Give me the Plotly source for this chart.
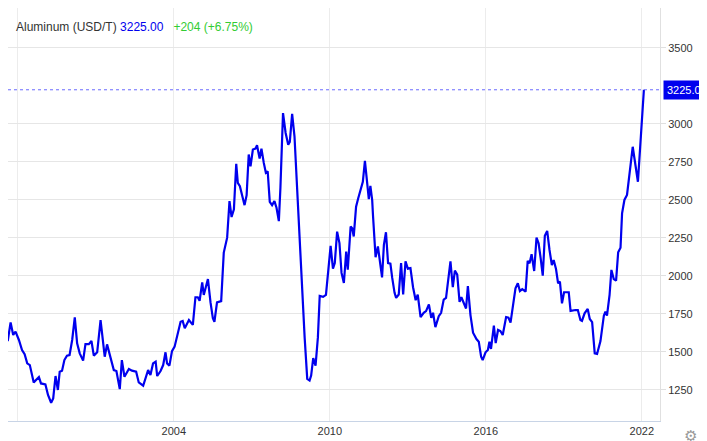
import plotly.graph_objects as go
import pandas as pd

years = [
    1997.46,1997.61,1997.72,1997.82,1997.91,1998.04,1998.16,1998.26,1998.36,1998.46,
    1998.61,1998.74,1998.81,1998.89,1999.06,1999.16,1999.28,1999.36,1999.45,1999.54,
    1999.61,1999.70,1999.79,1999.89,1999.99,2000.09,2000.19,2000.28,2000.38,2000.51,
    2000.60,2000.73,2000.83,2000.92,2001.05,2001.18,2001.34,2001.43,2001.56,2001.69,
    2001.79,2001.92,2002.00,2002.10,2002.27,2002.39,2002.55,2002.65,2002.82,2002.95,
    2003.01,2003.10,2003.20,2003.30,2003.36,2003.49,2003.59,2003.68,2003.74,2003.83,
    2003.93,2004.03,2004.13,2004.26,2004.34,2004.42,2004.58,2004.73,2004.83,2004.92,
    2004.99,2005.09,2005.15,2005.31,2005.41,2005.50,2005.56,2005.66,2005.82,2005.92,
    2006.05,2006.14,2006.22,2006.31,2006.40,2006.46,2006.54,2006.63,2006.72,2006.80,
    2006.88,2006.95,2007.04,2007.14,2007.20,2007.30,2007.37,2007.46,2007.54,2007.61,
    2007.69,2007.78,2007.87,2007.95,2008.04,2008.10,2008.20,2008.30,2008.40,2008.46,
    2008.55,2008.64,2008.74,2008.85,2008.93,2009.03,2009.13,2009.22,2009.28,2009.36,
    2009.45,2009.54,2009.61,2009.74,2009.85,2009.93,
    2010.03,2010.12,2010.19,2010.28,2010.37,2010.45,2010.54,2010.63,2010.69,2010.80,
    2010.86,2010.92,2011.01,2011.09,2011.18,2011.27,2011.35,2011.43,2011.50,2011.56,
    2011.63,2011.66,2011.76,2011.85,2011.92,2012.01,2012.08,2012.16,2012.24,2012.33,
    2012.40,2012.49,2012.55,2012.65,2012.74,2012.82,2012.91,2013.00,2013.10,2013.20,
    2013.30,2013.38,2013.49,2013.61,2013.70,2013.81,2013.90,2013.97,2014.06,2014.19,
    2014.28,2014.38,2014.47,2014.55,2014.64,2014.73,2014.81,2014.90,2014.99,2015.06,
    2015.15,2015.24,2015.31,2015.41,2015.51,
    2015.64,2015.73,2015.82,2015.88,2015.99,2016.08,2016.14,2016.20,2016.31,2016.38,
    2016.47,2016.56,2016.65,2016.78,2016.87,2016.95,2017.14,2017.23,2017.31,2017.40,
    2017.53,2017.61,2017.68,2017.76,2017.86,2017.95,2018.03,2018.11,2018.19,2018.27,
    2018.36,2018.45,2018.54,2018.61,2018.70,2018.78,2018.85,2018.93,2019.01,2019.19,
    2019.26,2019.45,2019.54,2019.64,2019.70,2019.80,2019.92,2020.00,2020.09,2020.19,
    2020.28,2020.41,2020.54,2020.60,2020.66,2020.76,2020.83,2020.92,2021.01,2021.09,
    2021.18,2021.24,2021.33,2021.43,2021.65,2021.85,2022.08,
]
prices = [
    1618,1572,1695,1612,1634,1579,1513,1485,1425,1414,
    1300,1322,1335,1293,1287,1217,1166,1195,1342,1250,
    1370,1377,1447,1476,1480,1579,1728,1557,1491,1443,
    1552,1552,1572,1476,1498,1710,1469,1550,1469,1381,
    1375,1256,1447,1337,1388,1377,1370,1300,1278,1348,
    1381,1348,1425,1436,1342,1375,1414,1498,1425,1410,
    1506,1535,1607,1699,1704,1656,1710,1678,1860,1860,
    1837,1958,1875,1980,1826,1722,1699,1826,1835,2154,
    2252,2493,2388,2438,2738,2613,2591,2525,2466,2532,
    2799,2722,2832,2838,2860,2773,2838,2744,2679,2689,
    2488,2466,2493,2449,2361,2580,3072,2941,2864,2882,
    3066,2919,2558,2252,1902,1596,1323,1312,1345,1460,
    1410,1596,1869,1863,1876,2001,
    2198,2048,2085,2292,2216,2020,1954,2161,2042,2325,
    2314,2260,2456,2510,2565,2619,2757,2641,2506,2593,
    2499,2401,2124,2194,2107,1991,2205,2288,2085,2081,
    1987,1889,1856,1878,2085,1878,2096,2048,2052,1926,
    1841,1878,1730,1758,1769,1813,1725,1758,1664,1736,
    1758,1845,1856,1987,2096,1926,2035,2009,1830,1860,
    1824,1786,1933,1743,1627,
    1585,1568,1469,1447,1498,1513,1568,1520,1673,1559,
    1645,1638,1612,1730,1726,1693,1919,1952,1901,1914,
    1897,2099,2083,2143,2033,2252,2215,2116,2002,2265,
    2296,2171,2072,2105,2046,1952,1963,1820,1893,1893,
    1770,1776,1776,1710,1704,1754,1783,1717,1696,1491,
    1487,1572,1739,1766,1739,1875,2040,1980,1969,2156,
    2186,2412,2500,2533,2850,2620,3225,
]
tick_years = [1998, 2004, 2010, 2016, 2022]
y_ticks = [1250, 1500, 1750, 2000, 2250, 2500, 2750, 3000, 3500]
last_price = 3225.0

def to_date(y):
    yr = int(y)
    start = pd.Timestamp(year=yr, month=1, day=1)
    end = pd.Timestamp(year=yr + 1, month=1, day=1)
    return start + (end - start) * (y - yr)

dates = [to_date(y) for y in years]

fig = go.Figure()
fig.add_trace(go.Scatter(x=dates, y=prices, mode="lines",
                         line=dict(color="#0000ee", width=2.2), hoverinfo="skip"))
fig.add_hline(y=last_price, line=dict(color="#6a6aff", width=1, dash="dot"))
fig.add_annotation(x=1, xref="paper", xanchor="left", y=last_price, yref="y",
                   text=f"{last_price:.1f}", showarrow=False, bgcolor="#0000ee",
                   font=dict(color="white", size=11), xshift=3, borderpad=3)
fig.add_annotation(x=0.0, xref="paper", y=1, yref="paper", xanchor="left", yanchor="top",
                   showarrow=False, xshift=6, yshift=-10, align="left",
                   text="<span style='color:#333'>Aluminum (USD/T)</span> <span style='color:#0000ee'>3225.00</span>"
                        "   <span style='color:#33cc33'>+204 (+6.75%)</span>",
                   font=dict(size=12, family="Liberation Sans, Arial"))
fig.add_annotation(x=1, xref="paper", y=-0.035, yref="paper", xanchor="left", yanchor="middle",
                   text="⚙", showarrow=False, xshift=22, font=dict(size=15, color="#999"))

fig.update_layout(
    width=707, height=441, margin=dict(l=0, r=55, t=0, b=28),
    plot_bgcolor="white", paper_bgcolor="white", showlegend=False,
    font=dict(family="Liberation Sans, Arial", size=11, color="#333"),
    xaxis=dict(range=[to_date(1997.62), to_date(2022.70)],
               tickvals=[pd.Timestamp(year=t, month=1, day=1) for t in tick_years],
               ticktext=[str(t) for t in tick_years],
               showgrid=True, gridcolor="#ececec", zeroline=False,
               showline=True, linecolor="#c8d4e6", ticks="", tickfont=dict(size=11)),
    yaxis=dict(side="right", range=[1046, 3763], tickvals=y_ticks,
               showgrid=True, gridcolor="#e6e6e6", zeroline=False,
               showline=True, linecolor="#e0e0e0", ticks="outside", ticklen=5,
               tickcolor="#e0e0e0", tickfont=dict(size=11)),
)
fig.write_html("out.html")
